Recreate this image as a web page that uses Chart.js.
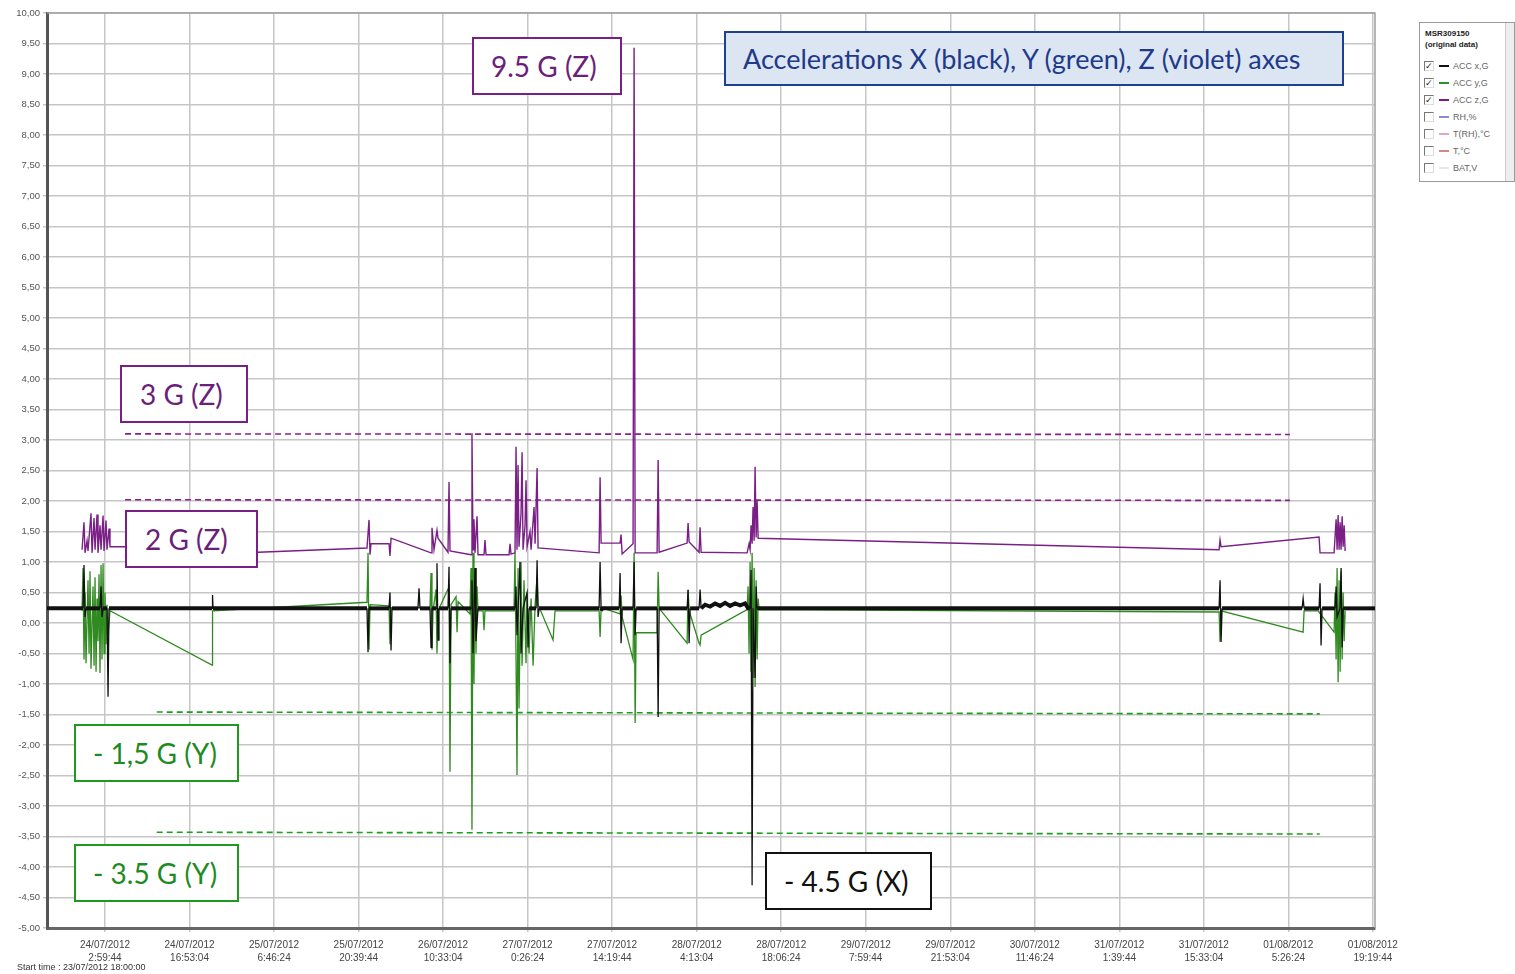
<!DOCTYPE html>
<html>
<head>
<meta charset="utf-8">
<title>Accelerations</title>
<script src="https://cdn.jsdelivr.net/npm/chart.js@4.4.1/dist/chart.umd.min.js"></script>
<style>
  body { margin: 0; background: #fff; }
  #wrap { position: relative; width: 1515px; height: 974px; overflow: hidden; }
  #chart { position: absolute; left: 0; top: 0; }
  .note {
    position: absolute; box-sizing: border-box; background: #fff;
    border: 2px solid; display: flex; align-items: center;
    font-family: Lato, "Open Sans", sans-serif; font-size: 28px; white-space: nowrap;
  }
  .purple { border-color: #7a1f86; color: #6b1f7a; }
  .green { border-color: #1f9a1f; color: #1f8a1f; }
  .black { border-color: #111; color: #111; }
  #title { border-color: #1f3f91; color: #1f3a8a; background: #dce6f2; font-size: 27px; }
  #startTime { position: absolute; left: 17px; top: 962px; font: 9px "Liberation Sans Narrow", "Liberation Sans", sans-serif; color: #333; }
  #legendBox {
    position: absolute; left: 1419px; top: 22px; width: 96px; height: 160px; box-sizing: border-box;
    border: 1px solid #9a9a9a; background: #fff; font: 9px "Liberation Sans", sans-serif; color: #666;
  }
  #legendBox .head { position: absolute; left: 5px; top: 5px; font-weight: bold; font-size: 8px; color: #222; line-height: 11px; }
  #legendBox .row { position: absolute; left: 4px; height: 10px; display: flex; align-items: center; }
  #legendBox .cb { width: 8px; height: 8px; border: 1px solid #777; border-right-color: #ddd; border-bottom-color: #ddd; font-size: 9px; line-height: 8px; text-align: center; color: #222; }
  #legendBox .ln { width: 10px; height: 2px; margin: 0 4px 0 5px; }
  #legendBox .scroll { position: absolute; right: 0; top: 0; width: 8px; height: 100%; background: #eee; border-left: 1px solid #ccc; }
</style>
</head>
<body>
<div id="wrap">
  <canvas id="chart" width="1515" height="974"></canvas>

  <div class="note purple" style="left:472px;top:37px;width:150px;height:58px;padding-left:17px;">9.5 G (Z)</div>
  <div class="note" id="title" style="left:724px;top:31px;width:620px;height:55px;padding-left:17px;">Accelerations X (black), Y (green), Z (violet) axes</div>
  <div class="note purple" style="left:120px;top:365px;width:128px;height:58px;padding-left:18px;">3 G (Z)</div>
  <div class="note purple" style="left:125px;top:510px;width:133px;height:58px;padding-left:18px;">2 G (Z)</div>
  <div class="note green" style="left:74px;top:724px;width:165px;height:58px;padding-left:17px;">- 1,5 G (Y)</div>
  <div class="note green" style="left:74px;top:844px;width:165px;height:58px;padding-left:17px;">- 3.5 G (Y)</div>
  <div class="note black" style="left:765px;top:852px;width:167px;height:58px;padding-left:17px;">- 4.5 G (X)</div>

  <div id="startTime">Start time : 23/07/2012 18:00:00</div>

  <div id="legendBox">
    <div class="head">MSR309150<br>(original data)</div>
    <div id="legendRows"></div>
    <div class="scroll"></div>
  </div>
</div>

<script>
// time axis in hours after start (23/07/2012 18:00:00)
const tickHours = [9.00, 22.89, 36.78, 50.67, 64.56, 78.44, 92.33, 106.22, 120.11, 134.00, 147.89, 161.78, 175.67, 189.56, 203.44, 217.33];
const tickDates = ["24/07/2012", "24/07/2012", "25/07/2012", "25/07/2012", "26/07/2012", "27/07/2012", "27/07/2012", "28/07/2012",
                   "28/07/2012", "29/07/2012", "29/07/2012", "30/07/2012", "31/07/2012", "31/07/2012", "01/08/2012", "01/08/2012"];
const tickTimes = ["2:59:44", "16:53:04", "6:46:24", "20:39:44", "10:33:04", "0:26:24", "14:19:44", "4:13:04",
                   "18:06:24", "7:59:44", "21:53:04", "11:46:24", "1:39:44", "15:33:04", "5:26:24", "19:19:44"];

// ACC x,G (black)
const xHours = [-0.53, 5.39, 5.55, 5.72, 5.88, 8.18, 8.35, 8.51, 8.68, 9.33, 9.50, 9.66,
  26.59, 26.67, 26.75,
  52.05, 52.22, 52.38,
  55.67, 55.83, 56.00, 56.16,
  60.43, 60.60, 60.76,
  62.40, 62.57, 62.73, 63.39, 63.55, 63.72, 63.88,
  65.36, 65.53, 65.69, 65.86,
  69.14, 69.30, 69.47, 69.80, 69.96, 70.29,
  76.37, 76.54, 76.70, 77.19, 77.36, 77.69, 78.35, 78.51, 78.68, 79.84, 80.00, 80.16, 80.33,
  90.19, 90.35, 90.52, 90.68,
  93.48, 93.64, 93.80, 93.97,
  95.77, 95.94, 96.11, 96.27,
  99.72, 99.89, 100.05,
  104.65, 104.81, 104.98, 105.14,
  106.62, 106.78, 106.95, 107.60, 108.42, 109.25, 110.07, 110.89, 111.71, 112.54, 113.36, 114.18, 114.67,
  115.00, 115.16, 115.33, 115.49, 115.82, 115.99, 116.15,
  192.06, 192.22, 192.39, 192.55,
  205.70, 205.87, 206.03,
  208.49, 208.65, 208.82, 208.98,
  211.12, 211.29, 211.45, 211.95, 212.11, 212.28, 212.44,
  217.68];
const xAccel = [0.24, 0.24, 0.95, 0.10, 0.24, 0.24, 0.60, 0.10, 0.24, 0.24, -1.21, 0.24,
  0.24, 0.46, 0.24,
  0.24, -0.48, 0.24,
  0.24, 0.50, -0.45, 0.24,
  0.24, 0.57, 0.24,
  0.24, -0.40, 0.24, 0.24, 0.98, -0.28, 0.24,
  0.24, 0.92, -0.66, 0.24,
  0.24, 0.70, -0.50, 0.90, -0.30, 0.24,
  0.24, 0.60, -0.20, 1.00, -0.50, 0.24, 0.50, -0.40, 0.24, 0.24, 1.03, 0.10, 0.24,
  0.24, 1.00, 0.20, 0.24,
  0.24, 0.82, -0.33, 0.24,
  0.24, 1.00, -0.20, 0.24,
  0.24, -1.54, 0.24,
  0.24, 0.54, -0.33, 0.24,
  0.24, 0.55, 0.24, 0.30, 0.27, 0.32, 0.28, 0.33, 0.28, 0.32, 0.29, 0.32, 0.24,
  0.24, 0.87, -4.30, 0.24, -0.90, 0.60, 0.24,
  0.24, 0.70, -0.31, 0.24,
  0.24, 0.40, 0.24,
  0.24, 0.65, -0.37, 0.24,
  0.24, 0.60, 0.10, 0.24, 0.90, -0.40, 0.24,
  0.24];

// ACC y,G (green)
const yHours = [5.23, 5.39, 5.55, 5.72, 5.88, 6.21, 6.38, 6.54, 6.70, 7.03, 7.20, 7.36, 7.53, 7.69, 7.85, 8.02, 8.18, 8.35, 8.51, 8.68, 8.84, 9.00, 9.17, 9.33, 9.50, 9.82,
  26.59, 26.67, 52.05, 52.22, 52.38, 52.55, 55.67, 55.83, 56.00,
  62.40, 62.57, 62.73, 62.90, 63.39, 63.55, 63.72,
  65.53, 65.69, 65.86, 66.68, 66.85, 67.01,
  68.97, 69.14, 69.30, 69.47, 69.63, 69.80, 69.96, 70.13, 70.29,
  71.12, 71.28, 71.44,
  76.21, 76.37, 76.54, 76.70, 76.87, 77.03, 77.36, 77.53, 77.85, 78.18, 78.35, 78.68, 79.01, 79.34, 79.67, 80.00, 80.16,
  82.62, 82.95,
  90.19, 90.35, 90.52, 93.64, 93.80, 93.97,
  95.77, 95.94, 96.11, 96.27, 99.72, 99.89, 100.05,
  104.65, 104.81, 104.98, 106.62, 106.78, 106.95,
  114.51, 114.67, 114.83, 115.00, 115.16, 115.33, 115.49, 115.66, 115.82, 115.99, 116.15, 116.32, 116.48,
  192.06, 192.22, 192.39, 205.87, 206.03, 208.33,
  210.96, 211.12, 211.29, 211.45, 211.62, 211.78, 211.95, 212.11, 212.28, 212.44, 212.61, 212.77];
const yAccel = [0.20, 0.90, -0.60, 0.50, -0.66, 0.70, -0.50, 0.85, -0.75, 0.60, -0.70, 0.75, -0.80, 0.40, -0.30, 0.80, -0.82, 0.95, -0.60, 0.98, -0.50, 0.50, -0.35, 0.30, -0.20, 0.20,
  -0.69, 0.20, 0.34, 1.15, -0.44, 0.30, 0.28, -0.35, 0.25,
  0.25, 0.82, -0.44, 0.20, 0.55, -0.50, 0.20,
  0.59, -2.44, 0.30, 0.43, -0.15, 0.35,
  0.15, 0.90, -3.39, 1.15, -1.00, 0.90, -0.50, 0.60, 0.20,
  0.20, -0.12, 0.20,
  0.20, 1.15, -0.60, -2.49, 0.90, -1.40, 1.00, -0.70, 0.70, -0.66, 0.50, -0.50, 0.40, -0.70, 0.30, 0.75, 0.30,
  -0.28, 0.20,
  0.20, -0.23, 0.25, 0.15, 0.45, 0.10,
  -0.60, 1.15, -1.64, -0.16, -0.16, 0.84, 0.24,
  -0.33, 0.55, 0.20, -0.33, -0.36, -0.20,
  0.22, 0.60, -0.50, 1.00, -0.80, 1.15, -0.90, 0.90, -1.05, 0.70, -0.60, 0.40, 0.22,
  0.18, -0.31, 0.20, -0.15, 0.20, 0.20,
  -0.15, 0.50, -0.60, 0.90, -0.97, 0.70, -0.80, 0.85, -0.60, 0.50, -0.30, 0.20];

// ACC z,G (violet)
const zHours = [5.23, 5.55, 5.72, 6.05, 6.21, 6.70, 6.87, 7.20, 7.36, 7.69, 7.85, 8.18, 8.35, 8.68, 8.84, 9.17, 9.33, 9.66, 9.82,
  12.13, 34.14, 52.05, 52.38, 52.55, 52.71, 55.67, 55.83, 56.00,
  62.57, 62.73, 63.06, 63.55, 63.72, 65.36, 65.53, 65.69,
  69.14, 69.30, 69.47, 69.63, 69.80, 70.13, 70.29, 71.28, 71.44, 71.61,
  75.39, 75.55, 75.72, 76.37, 76.54, 76.70, 76.87, 77.03, 77.36, 77.53, 77.69, 78.02, 78.18, 78.35, 78.84, 79.01, 79.50, 79.67, 80.00, 80.16,
  90.19, 90.35, 90.52, 93.64, 93.80, 93.97, 95.77, 95.94, 96.11,
  99.72, 99.89, 100.05, 104.65, 104.81, 104.98, 106.62, 106.78, 106.95,
  114.51, 114.83, 115.00, 115.16, 115.33, 115.49, 115.66, 115.82, 115.99, 116.15, 116.32,
  192.06, 192.22, 192.39, 208.49, 208.65,
  210.96, 211.29, 211.45, 211.62, 211.78, 211.95, 212.11, 212.28, 212.44, 212.61, 212.77];
const zAccel = [1.20, 1.65, 1.15, 1.35, 1.18, 1.80, 1.15, 1.72, 1.20, 1.78, 1.15, 1.60, 1.20, 1.76, 1.18, 1.68, 1.20, 1.55, 1.25,
  1.25, 1.16, 1.23, 1.69, 1.12, 1.30, 1.30, 1.10, 1.39,
  1.15, 1.56, 1.20, 1.52, 1.39, 1.16, 2.31, 1.18,
  1.12, 3.11, 1.20, 1.70, 1.15, 1.75, 1.12, 1.12, 1.36, 1.12,
  1.12, 1.30, 1.13, 1.15, 2.89, 1.20, 2.59, 1.25, 1.80, 2.80, 1.20, 1.60, 2.34, 1.25, 1.50, 1.20, 1.90, 1.30, 2.54, 1.23,
  1.15, 2.39, 1.31, 1.31, 1.45, 1.13, 1.30, 9.43, 1.15,
  1.15, 2.67, 1.16, 1.31, 1.64, 1.33, 1.16, 1.57, 1.16,
  1.15, 1.30, 1.20, 1.60, 1.30, 1.90, 1.35, 2.56, 1.40, 2.00, 1.39,
  1.20, 1.36, 1.25, 1.41, 1.15,
  1.15, 1.70, 1.20, 1.77, 1.20, 1.65, 1.20, 1.75, 1.25, 1.60, 1.18];

// hand-drawn guide lines of the original figure: [start h, end h], [start G, end G]
const guide3Hours = [12.3, 203.7], guide3Accel = [3.10, 3.09];
const guide2Hours = [12.3, 203.7], guide2Accel = [2.02, 2.01];
const guideM15Hours = [17.5, 208.6], guideM15Accel = [-1.46, -1.49];
const guideM35Hours = [17.5, 208.6], guideM35Accel = [-3.43, -3.46];

const legendItems = [
  { label: "ACC x,G", color: "#111", on: true },
  { label: "ACC y,G", color: "#2f8f2f", on: true },
  { label: "ACC z,G", color: "#7a1f86", on: true },
  { label: "RH,%", color: "#8a8ad0", on: false },
  { label: "T(RH),°C", color: "#e0a8c8", on: false },
  { label: "T,°C", color: "#d08888", on: false },
  { label: "BAT,V", color: "#e6e6e6", on: false }
];

function pts(hours, vals) {
  return hours.map((h, i) => ({ x: h, y: vals[i] }));
}

// legend panel
const rows = document.getElementById("legendRows");
legendItems.forEach((it, i) => {
  const r = document.createElement("div");
  r.className = "row";
  r.style.top = (38 + i * 17) + "px";
  r.innerHTML = `<div class="cb">${it.on ? "&#10003;" : ""}</div><div class="ln" style="background:${it.color}"></div><span>${it.label}</span>`;
  rows.appendChild(r);
});

const frame = {
  id: "frame",
  beforeDatasetsDraw(chart) {
    const a = chart.chartArea, c = chart.ctx;
    c.save();
    c.strokeStyle = "#a0a0a0";
    c.lineWidth = 1.5;
    c.beginPath();
    c.moveTo(a.left, a.top);
    c.lineTo(a.right, a.top);
    c.lineTo(a.right, a.bottom);
    c.stroke();
    c.restore();
  }
};

const baseX = 0.24;
const thin = (v) => Math.abs(v - baseX) > 0.13;

new Chart(document.getElementById("chart"), {
  type: "line",
  data: {
    datasets: [
      { label: "ACC z,G", data: pts(zHours, zAccel), borderColor: "#7a1f86", borderWidth: 1.4 },
      {
        label: "ACC x,G", data: pts(xHours, xAccel), borderColor: "#111", borderWidth: 1.3,
        segment: { borderWidth: ctx => (thin(ctx.p0.parsed.y) || thin(ctx.p1.parsed.y)) ? 1.3 : 4 }
      },
      { label: "ACC y,G", data: pts(yHours, yAccel), borderColor: "#2f8a1f", borderWidth: 1.3 },
      { data: pts(guide3Hours, guide3Accel), borderColor: "#8a1f8c", borderWidth: 1.6, borderDash: [6, 4] },
      { data: pts(guide2Hours, guide2Accel), borderColor: "#8a1f8c", borderWidth: 1.6, borderDash: [6, 4] },
      { data: pts(guideM15Hours, guideM15Accel), borderColor: "#1aa01a", borderWidth: 1.6, borderDash: [6, 4] },
      { data: pts(guideM35Hours, guideM35Accel), borderColor: "#1aa01a", borderWidth: 1.6, borderDash: [6, 4] }
    ]
  },
  options: {
    responsive: false,
    animation: false,
    parsing: false,
    layout: { padding: { top: 13, right: 140, left: 0, bottom: 0 } },
    elements: { point: { radius: 0 }, line: { tension: 0 } },
    plugins: { legend: { display: false }, tooltip: { enabled: false } },
    scales: {
      x: {
        type: "linear",
        min: -0.53,
        max: 217.68,
        afterBuildTicks: (scale) => { scale.ticks = tickHours.map(v => ({ value: v })); },
        afterFit: (scale) => { scale.height = 46; },
        ticks: {
          autoSkip: false,
          maxRotation: 0,
          padding: 6,
          color: "#444",
          font: { family: "'Liberation Sans Narrow', 'Liberation Sans', sans-serif", size: 10, lineHeight: 1.35 },
          callback: (v, i) => [tickDates[i], tickTimes[i]]
        },
        grid: { color: "#c6c6c6", lineWidth: 1.5, tickLength: 4 },
        border: { color: "#666", width: 3 }
      },
      y: {
        min: -5,
        max: 10,
        afterFit: (scale) => { scale.width = 47; },
        ticks: {
          stepSize: 0.5,
          padding: 3,
          color: "#555",
          font: { family: "'Liberation Sans Narrow', 'Liberation Sans', sans-serif", size: 9.5 },
          callback: v => v.toFixed(2).replace(".", ",")
        },
        grid: { color: "#c6c6c6", lineWidth: 1.5, tickLength: 4 },
        border: { color: "#555", width: 3 }
      }
    }
  },
  plugins: [frame]
});
</script>
</body>
</html>
